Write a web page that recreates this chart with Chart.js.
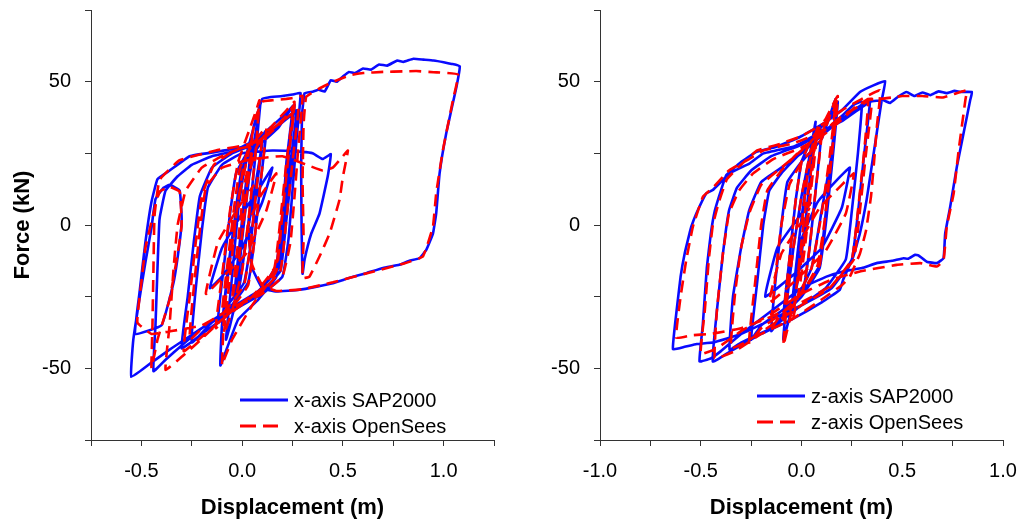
<!DOCTYPE html>
<html lang="en">
<head>
    <meta charset="UTF-8">
    <title>Force - Displacement hysteresis</title>
    <script src="https://cdn.jsdelivr.net/npm/chart.js"></script>
    <style>
        body {
            margin: 0;
            background: #fff;
            font-family: "Liberation Sans", Arial, sans-serif;
        }
        .panel {
            position: absolute;
            top: 0;
            height: 525px;
        }
    </style>
</head>
<body>
    <!-- x-axis panel -->
    <div class="panel" style="left:0; width:510px;">
        <canvas id="xChart" width="510" height="525"></canvas>
    </div>
    <!-- z-axis panel -->
    <div class="panel" style="left:510px; width:511px;">
        <canvas id="zChart" width="511" height="525"></canvas>
    </div>

    <script>
        // axis ranges and tick labels
        const xAxisRangeX = [-0.75, 1.25];
        const xAxisRangeZ = [-1.0, 1.0];
        const forceRange = [-75, 75];
        const dispLabels = [-1.0, -0.5, 0.0, 0.5, 1.0];
        const forceLabels = [-50, 0, 50];

        const seriesNames = ['x-axis SAP2000', 'x-axis OpenSees', 'z-axis SAP2000', 'z-axis OpenSees'];

        // x-axis, SAP2000 : [displacement (m), force (kN)]
        const xSapPath = [
            [0,0],[0.03,15],[0.06,25],[0.1,29],
            [0.07,12],[0.04,-8],[0.01,-20],[-0.05,-26],[-0.09,-29],
            [-0.06,-12],[-0.03,6],[0.0,20],[0.06,27],[0.1,29],
            [-0.04,-30],[0.0,-5],[0.04,20],[0.08,38],[0.09,42],
            [0.06,20],[0.03,0],[-0.01,-20],[-0.06,-35],[-0.08,-40],
            [-0.05,-18],[-0.02,5],[0.02,24],[0.05,32],
            [0.02,10],[-0.01,-12],[-0.04,-25],
            [-0.01,-5],[0.02,15],[0.06,26],[0.12,33],
            [0.09,14],[0.06,-6],[0.03,-20],[-0.04,-27],[-0.12,-34],
            [-0.09,-14],[-0.06,4],[-0.03,18],[0.04,27],[0.14,34],[0.22,39],[0.26,42],
            [0.23,24],[0.2,4],[0.17,-14],[0.1,-22],[0.0,-27],[-0.1,-33],[-0.2,-38],[-0.3,-43],
            [-0.27,-25],[-0.24,-6],[-0.21,10],[-0.15,20],[-0.05,25],[0.05,28],[0.15,33],[0.24,38],[0.28,40],
            [0.25,22],[0.22,2],[0.19,-16],[0.1,-23],[-0.05,-29],[-0.2,-36],[-0.35,-43],[-0.45,-48],[-0.55,-53],
            [-0.54,-40],[-0.51,-26],[-0.48,-13],[-0.45,-1],[-0.43,9],[-0.39,13],[-0.36,14],[-0.31,12],
            [-0.3,2],[-0.31,-6],[-0.34,-20],[-0.4,-35],[-0.53,-38],
            [-0.51,-24],[-0.48,-6],[-0.45,8],[-0.42,16],[-0.36,19],[-0.26,24],[-0.13,25.5],[-0.01,27],[0.1,31],[0.2,36],[0.27,40],
            [0.24,22],[0.21,3],[0.18,-15],[0.08,-23],[-0.08,-30],[-0.2,-36],[-0.3,-42],[-0.38,-47],[-0.44,-51],
            [-0.43,-35],[-0.42,-15],[-0.41,2],[-0.38,12],[-0.32,17],[-0.25,21],[-0.15,24],[-0.02,26],[0.1,29],[0.18,34],[0.25,41],
            [0.22,22],[0.2,2],[0.17,-18],[0.08,-26],[-0.02,-33],[-0.07,-42],[-0.108,-49],
            [-0.1,-35],[-0.07,-15],[-0.03,5],[0.02,22],[0.06,35],[0.1,44],
            [0.13,44.5],[0.2,45],[0.25,45.5],[0.29,46],
            [0.27,30],[0.25,12],[0.23,-5],[0.2,-18],[0.1,-24],[-0.05,-30],[-0.15,-34],[-0.25,-41],
            [-0.23,-22],[-0.2,-2],[-0.17,13],[-0.1,21],[0.0,25],[0.15,26],[0.3,25.5],[0.35,25],[0.4,23],[0.44,24.7],
            [0.425,17],[0.384,4],[0.343,-3],[0.31,-12],[0.3,-17],
            [0.295,0],[0.293,20],[0.297,38],[0.31,46],[0.35,46.5],[0.38,47.2],[0.41,46.6],[0.44,50.5],[0.47,50],
            [0.5,51.8],[0.53,53.4],[0.56,53],[0.6,54.6],[0.64,54.2],[0.68,56],[0.72,55.6],[0.77,57.4],[0.8,56.9],
            [0.85,58],[0.9,57.7],[0.95,57.4],[1.0,56.8],[1.04,56.2],[1.08,55.4],
            [1.063,48],[1.013,32],[0.98,18],[0.963,4],[0.947,-3],[0.914,-8.7],[0.88,-11.6],[0.83,-12.5],[0.78,-13.9],
            [0.7,-15],[0.616,-16.8],[0.53,-18.5],[0.45,-20.3],[0.37,-21.5],[0.285,-22.6],[0.17,-23.2],[0.1,-22],[0.05,-15],[0.03,0],
            [0.08,12],[0.15,20],[0.1,8],[0.0,-8],[-0.1,-18],[-0.16,-22],[-0.1,-8],[0.0,4],[0.08,12]
        ];

        // x-axis, OpenSees
        const xOsPath = [
            [0,0],[0.03,17],[0.07,27],[0.1,31],
            [0.07,12],[0.04,-8],[0.01,-21],[-0.05,-27],[-0.1,-31],
            [-0.07,-12],[-0.04,6],[-0.01,20],[0.05,28],[0.12,34],
            [0.09,14],[0.06,-6],[0.03,-21],[-0.04,-28],[-0.13,-36],
            [-0.1,-18],[-0.06,5],[-0.02,22],[0.04,34],[0.07,40],[0.086,43.5],
            [0.065,24],[0.035,4],[0.0,-16],[-0.05,-30],[-0.09,-38],
            [-0.06,-18],[-0.03,3],[0.01,22],[0.05,30],
            [0.02,8],[-0.02,-14],[-0.05,-26],
            [-0.02,-6],[0.01,14],[0.05,25],[0.13,33],[0.22,40],[0.26,43],
            [0.23,24],[0.2,4],[0.17,-14],[0.1,-22],[0.0,-27],[-0.1,-33],[-0.2,-39],[-0.29,-44],
            [-0.26,-25],[-0.23,-6],[-0.2,10],[-0.14,21],[-0.04,26],[0.06,28],[0.16,34],[0.25,39],[0.28,41],
            [0.25,22],[0.22,2],[0.19,-16],[0.1,-23],[-0.05,-29],[-0.2,-35],[-0.35,-37],[-0.45,-38],[-0.52,-34],
            [-0.5,-20],[-0.48,-8],[-0.44,4],[-0.41,11.6],[-0.36,13.3],[-0.31,11.6],
            [-0.3,0],[-0.32,-10],[-0.36,-26],[-0.42,-40],[-0.45,-50],
            [-0.445,-35],[-0.44,-15],[-0.435,3],[-0.41,15.7],[-0.31,22.6],[-0.13,26],[0.05,28.4],[0.15,33],[0.25,40],
            [0.22,22],[0.19,2],[0.16,-15],[0.05,-25],[-0.1,-33],[-0.22,-41],[-0.3,-46],[-0.38,-50.5],
            [-0.36,-35],[-0.34,-15],[-0.32,0],[-0.28,12],[-0.2,20],[-0.1,24],[0.0,27],[0.12,31],[0.2,36],[0.26,42],
            [0.23,24],[0.2,4],[0.17,-16],[0.05,-28],[-0.05,-40],[-0.09,-47],[-0.1,-49],
            [-0.09,-32],[-0.06,-12],[-0.02,8],[0.03,25],[0.07,38],[0.1,43],
            [0.15,43.5],[0.22,44],[0.27,44.5],[0.3,45],
            [0.28,28],[0.26,10],[0.24,-6],[0.2,-18],[0.1,-24],[-0.05,-29],[-0.17,-34],[-0.26,-40],
            [-0.24,-22],[-0.21,-2],[-0.18,13],[-0.1,20],[0.05,23],[0.2,24],[0.32,21],[0.4,19],[0.45,20],[0.5,24],[0.525,26],
            [0.5,16.8],[0.483,8.7],[0.434,-3],[0.384,-11],[0.334,-18],[0.3,-18.5],
            [0.305,-5],[0.3,15],[0.305,35],[0.318,44.7],[0.38,47.5],[0.45,49.9],[0.533,52.2],[0.6,53],[0.7,53.4],
            [0.8,53.6],[0.864,53.7],[0.95,53.3],[1.071,52.5],
            [1.046,43.5],[0.996,26],[0.963,11],[0.947,-0.6],[0.897,-11],[0.8,-13.5],[0.62,-16.8],[0.45,-20],
            [0.3,-22.4],[0.17,-23],[0.1,-21],[0.05,-14],[0.03,0],
            [0.09,10],[0.17,18],[0.12,5],[0.02,-10],[-0.08,-17],[-0.18,-24],[-0.12,-6],[-0.02,6],[0.06,14]
        ];

        // z-axis, SAP2000
        const zSapPath = [
            [0,0],[0.03,18],[0.06,28],[0.1,33],
            [0.07,12],[0.04,-8],[0.01,-22],[-0.05,-28],[-0.09,-32],
            [-0.06,-12],[-0.03,8],[0.0,22],[0.05,30],[0.12,36],[0.18,43],
            [0.15,24],[0.12,4],[0.09,-14],[0.0,-24],[-0.1,-30],[-0.2,-35],[-0.25,-40],
            [-0.22,-20],[-0.19,0],[-0.16,12],[-0.1,18],[-0.02,24],[0.08,30],[0.2,37],[0.3,42],[0.34,43.5],
            [0.31,24],[0.28,4],[0.25,-12],[0.15,-22],[0.0,-28],[-0.15,-33],[-0.3,-38],[-0.44,-41],[-0.52,-41.5],[-0.58,-42.5],[-0.638,-43.3],
            [-0.62,-30],[-0.6,-18],[-0.58,-10],[-0.556,-3],[-0.547,-0.6],[-0.522,4],[-0.473,11],[-0.44,12.2],[-0.357,18],
            [-0.257,21.5],[-0.191,24.9],[-0.041,27.3],[0.008,29],[0.108,33],[0.207,36.5],[0.29,40.6],[0.34,43],[0.406,43.5],
            [0.44,42.6],[0.48,44.8],[0.522,46.4],[0.56,45],[0.6,46.2],[0.64,45.3],[0.68,46.6],[0.72,46],[0.76,46.8],[0.788,46.4],[0.846,46.4],
            [0.837,43.5],[0.804,31.9],[0.771,20.3],[0.738,6.4],[0.713,-3],[0.705,-11.6],[0.672,-13.3],[0.622,-12.8],[0.58,-10.6],
            [0.564,-10.4],[0.53,-11.8],[0.506,-11.6],[0.45,-12.5],[0.373,-13.3],[0.3,-15],[0.207,-16.2],[0.124,-18],[0.0,-22],
            [-0.15,-30],[-0.3,-38],[-0.4,-44],[-0.45,-46.5],[-0.506,-47.6],
            [-0.49,-35],[-0.47,-15],[-0.45,-3],[-0.43,5],[-0.4,12],[-0.373,17.4],[-0.3,22],[-0.224,25.5],[-0.124,27.3],
            [-0.008,30.7],[0.1,35],[0.2,40],[0.29,46.4],[0.357,48.7],[0.415,50.2],
            [0.398,43.5],[0.373,31.9],[0.348,20.3],[0.323,8.7],[0.29,-2.9],[0.257,-11],[0.207,-19],[0.19,-22.6],[0.1,-27],
            [-0.05,-33],[-0.2,-38],[-0.35,-44],[-0.44,-47.6],
            [-0.42,-30],[-0.39,-10],[-0.36,5],[-0.32,13],[-0.25,19],[-0.15,24],[0.0,28],[0.12,33],[0.2,38],[0.26,42],[0.3,43],
            [0.28,25],[0.25,5],[0.22,-12],[0.12,-22],[0.0,-28],[-0.15,-36],[-0.3,-41],[-0.357,-43.5],
            [-0.34,-25],[-0.3,-8],[-0.26,5],[-0.2,15],[-0.1,20],[0.0,25],[0.1,32],[0.16,40],[0.18,43],
            [0.15,20],[0.12,0],[0.09,-15],[0.0,-25],[-0.1,-32],[-0.15,-37],
            [-0.13,-20],[-0.1,0],[-0.07,15],[0.0,22],[0.1,30],[0.17,44],
            [0.15,25],[0.1,5],[0.05,-15],[-0.05,-30],[-0.09,-40],
            [-0.07,-25],[-0.04,-8],[0.0,10],[0.04,24],[0.07,36],
            [0.04,15],[0.01,-5],[-0.02,-20],[-0.05,-30],
            [-0.02,-10],[0.01,8],[0.04,22],[0.06,28],
            [0.03,8],[0.0,-10],[-0.03,-22],
            [0.0,-5],[0.08,8],[0.18,16],[0.24,20],[0.2,6],[0.1,-8],[-0.05,-18],[-0.18,-25],[-0.12,-8],[0.0,4],[0.05,8]
        ];

        // z-axis, OpenSees
        const zOsPath = [
            [0,0],[0.03,18],[0.06,28],[0.1,32],
            [0.07,12],[0.04,-8],[0.01,-22],[-0.05,-29],[-0.09,-33],
            [-0.06,-12],[-0.03,8],[0.0,22],[0.05,30],[0.12,37],[0.18,45],
            [0.15,25],[0.12,5],[0.09,-14],[0.0,-24],[-0.1,-31],[-0.2,-36],[-0.26,-41],
            [-0.23,-20],[-0.2,0],[-0.17,12],[-0.1,19],[-0.02,25],[0.08,31],[0.2,38],[0.3,42],[0.35,44],
            [0.32,25],[0.29,5],[0.26,-12],[0.15,-21],[0.0,-27],[-0.15,-32],[-0.3,-36],[-0.45,-38],[-0.55,-38.5],[-0.622,-39.4],
            [-0.6,-25],[-0.572,-12.2],[-0.539,-0.6],[-0.489,9.9],[-0.44,13],[-0.36,19],[-0.26,23],[-0.19,26],[-0.04,28.5],
            [0.05,31],[0.15,35],[0.25,40],[0.33,44],[0.39,44],[0.45,44.5],[0.5,45],[0.6,45],[0.7,44.5],[0.75,45.5],[0.82,47],
            [0.813,43.5],[0.78,26.1],[0.755,11],[0.721,-0.6],[0.705,-12.2],[0.672,-14.5],[0.589,-13.3],[0.473,-13.9],
            [0.29,-16.2],[0.15,-19],[0.0,-24],[-0.15,-31],[-0.3,-37],[-0.42,-43],[-0.5,-45],
            [-0.48,-30],[-0.46,-12],[-0.44,0],[-0.41,8],[-0.37,16],[-0.3,21],[-0.22,26],[-0.12,28],[0.0,31],[0.1,35],
            [0.2,40],[0.3,44],[0.39,47],
            [0.375,35],[0.36,22],[0.345,10],[0.32,-2],[0.29,-10],[0.24,-18],[0.2,-21],[0.1,-26],[-0.05,-33],[-0.2,-38],
            [-0.33,-44],[-0.43,-46.5],
            [-0.42,-30],[-0.39,-10],[-0.36,4],[-0.31,12],[-0.24,18],[-0.14,23],[0,27],[0.12,32],[0.22,38],[0.28,42],[0.33,43],
            [0.31,25],[0.28,5],[0.25,-12],[0.14,-22],[0,-28],[-0.15,-35],[-0.28,-41],[-0.35,-43],
            [-0.33,-24],[-0.3,-8],[-0.26,4],[-0.2,14],[-0.1,20],[0,26],[0.1,33],[0.16,40],[0.18,44],
            [0.15,24],[0.12,4],[0.08,-14],[0,-24],[-0.1,-31],[-0.15,-36],
            [-0.13,-18],[-0.1,0],[-0.06,14],[0.0,22],[0.1,30],[0.17,44],
            [0.14,24],[0.1,4],[0.05,-15],[-0.04,-28],[-0.09,-42],
            [-0.07,-25],[-0.04,-8],[0.0,10],[0.04,24],[0.08,34],
            [0.05,14],[0.02,-6],[-0.01,-22],[-0.04,-32],
            [-0.01,-12],[0.02,6],[0.05,20],[0.07,30],
            [0.04,10],[0.01,-8],[-0.02,-20],
            [0.01,-4],[0.09,6],[0.2,14],[0.26,18],[0.22,4],[0.12,-9],[-0.04,-20],[-0.16,-27],[-0.1,-10],[0.01,2],[0.04,6]
        ];

        const SAP_BLUE = '#0a0aff';
        const OS_RED = '#ff0000';
        const FONT = '"Liberation Sans", Arial, sans-serif';

        function toPoints(path) {
            return path.map(p => ({ x: p[0], y: p[1] }));
        }

        // legend drawn inside the plot area
        const inlineLegend = {
            id: 'inlineLegend',
            afterDatasetsDraw(chart, args, opts) {
                const { ctx, chartArea } = chart;
                ctx.save();
                ctx.font = '20px ' + FONT;
                ctx.textBaseline = 'middle';
                ctx.textAlign = 'left';
                chart.data.datasets.forEach((ds, i) => {
                    const x0 = chartArea.left + opts.x;
                    const y0 = chartArea.top + opts.y + i * opts.gap;
                    const dashed = !!ds.borderDash;
                    ctx.beginPath();
                    ctx.strokeStyle = ds.borderColor;
                    ctx.lineWidth = 3;
                    ctx.setLineDash(dashed ? [16, 7] : []);
                    ctx.moveTo(x0, y0);
                    ctx.lineTo(x0 + (dashed ? 38 : 48), y0);
                    ctx.stroke();
                    ctx.setLineDash([]);
                    ctx.fillStyle = '#000';
                    ctx.fillText(ds.label, x0 + 54, y0 + 1);
                });
                ctx.restore();
            }
        };

        function makeChart(canvasId, sapPath, osPath, sapName, osName, xRange, yAxisWidth, rightPad, showYTitle, legendPos) {
            return new Chart(document.getElementById(canvasId), {
                type: 'scatter',
                data: {
                    datasets: [{
                        label: sapName,
                        data: toPoints(sapPath),
                        showLine: true,
                        borderColor: SAP_BLUE,
                        borderWidth: 2.6,
                        pointRadius: 0,
                        tension: 0.1,
                        borderJoinStyle: 'round',
                        order: 1
                    }, {
                        label: osName,
                        data: toPoints(osPath),
                        showLine: true,
                        borderColor: OS_RED,
                        borderWidth: 2.6,
                        borderDash: [12, 7],
                        pointRadius: 0,
                        tension: 0.1,
                        order: 0
                    }]
                },
                options: {
                    responsive: false,
                    animation: false,
                    devicePixelRatio: 1,
                    layout: { padding: { left: 0, top: 10, right: rightPad, bottom: 0 } },
                    plugins: {
                        legend: { display: false },
                        tooltip: { enabled: false },
                        inlineLegend: legendPos
                    },
                    scales: {
                        x: {
                            type: 'linear',
                            min: xRange[0],
                            max: xRange[1],
                            afterFit: s => { s.height = 85; s.paddingLeft = 0; s.paddingRight = 0; },
                            afterBuildTicks: s => {
                                const t = [];
                                for (let v = Math.round(xRange[0] * 4); v <= Math.round(xRange[1] * 4); v++) t.push({ value: v / 4 });
                                s.ticks = t;
                            },
                            ticks: {
                                color: '#000',
                                font: { family: FONT, size: 20 },
                                padding: 13,
                                maxRotation: 0,
                                autoSkip: false,
                                callback: v => dispLabels.some(d => Math.abs(d - v) < 1e-9) ? v.toFixed(1) : ''
                            },
                            grid: { drawOnChartArea: false, drawTicks: true, tickLength: 6, color: '#333' },
                            border: { display: true, color: '#333', width: 1 },
                            title: {
                                display: true,
                                text: 'Displacement (m)',
                                color: '#000',
                                font: { family: FONT, size: 22, weight: 'bold' },
                                padding: { top: 0, bottom: 4 }
                            }
                        },
                        y: {
                            type: 'linear',
                            min: forceRange[0],
                            max: forceRange[1],
                            afterFit: s => { s.width = yAxisWidth; s.paddingTop = 0; s.paddingBottom = 0; },
                            afterBuildTicks: s => {
                                const t = [];
                                for (let v = forceRange[0]; v <= forceRange[1]; v += 25) t.push({ value: v });
                                s.ticks = t;
                            },
                            ticks: {
                                color: '#000',
                                font: { family: FONT, size: 20 },
                                padding: 14,
                                autoSkip: false,
                                callback: v => forceLabels.includes(v) ? String(v) : ''
                            },
                            grid: { drawOnChartArea: false, drawTicks: true, tickLength: 6, color: '#333' },
                            border: { display: true, color: '#333', width: 1 },
                            title: {
                                display: showYTitle,
                                text: 'Force (kN)',
                                color: '#000',
                                font: { family: FONT, size: 22, weight: 'bold' },
                                padding: { top: 10, bottom: 0 }
                            }
                        }
                    }
                },
                plugins: [inlineLegend]
            });
        }

        makeChart('xChart', xSapPath, xOsPath, seriesNames[0], seriesNames[1], xAxisRangeX, 91, 16, true, { x: 149, y: 390, gap: 26 });
        makeChart('zChart', zSapPath, zOsPath, seriesNames[2], seriesNames[3], xAxisRangeZ, 90, 18, false, { x: 157, y: 386, gap: 26 });
    </script>
</body>
</html>
